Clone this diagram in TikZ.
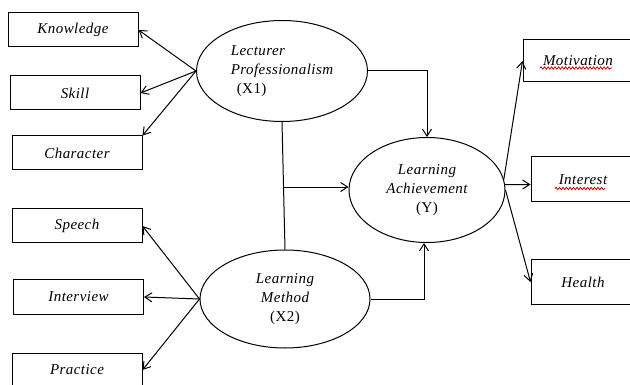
\documentclass[tikz,border=0pt]{standalone}
\usepackage{fontspec}
\setmainfont{Liberation Serif}[LetterSpace=3]
\usetikzlibrary{arrows.meta,positioning,shapes.geometric,calc,decorations.pathmorphing}

\begin{document}
\begin{tikzpicture}[x=1pt,y=-1pt,
  every node/.style={font=\fontsize{15}{19}\selectfont\itshape},
  ind/.style={draw,line width=1pt,minimum width=130pt,minimum height=34pt,inner sep=0pt},
  lat/.style={draw,ellipse,line width=1pt,inner sep=0pt,align=center},
  arrow/.style={-{Straight Barb[length=7pt,width=9pt]},line width=1pt},
  link/.style={line width=1pt},
  spell/.style={red!80!black,line width=0.8pt,decorate,
                decoration={snake,amplitude=1.2pt,segment length=3.5pt}},
  ]

  \clip (0,0) rectangle (630,385);

  %─── Latent variables ──────────────────────────────────────────────────────
  \node[lat,minimum width=171pt,minimum height=101pt,align=left]
    (lecturer) at (282,71)
    {Lecturer\\Professionalism\\\hspace*{6pt}\upshape(X1)};

  \node[lat,minimum width=156pt,minimum height=105pt]
    (achieve) at (427,190)
    {Learning\\Achievement\\\upshape(Y)};

  \node[lat,minimum width=170pt,minimum height=98pt]
    (method) at (285,299)
    {Learning\\Method\\\upshape(X2)};

  %─── Indicators of X1 ──────────────────────────────────────────────────────
  \node[ind] (knowledge) at (73,30)  {Knowledge};
  \node[ind] (skill)     at (75,93)  {Skill};
  \node[ind] (character) at (77,153) {Character};

  %─── Indicators of X2 ──────────────────────────────────────────────────────
  \node[ind] (speech)    at (77,226)   {Speech};
  \node[ind] (interview) at (78.5,297) {Interview};
  \node[ind] (practice)  at (77,370)   {Practice};

  %─── Indicators of Y ───────────────────────────────────────────────────────
  \node[ind,minimum width=110pt,minimum height=42pt] (motivation) at (578,61)    {Motivation};
  \node[ind,minimum width=104pt,minimum height=45pt] (interest)   at (583,179.5) {Interest};
  \node[ind,minimum width=104pt,minimum height=44pt] (health)     at (583,282)   {Health};

  % spelling marks under two labels
  \draw[spell] ([xshift=-38pt,yshift=-7pt]motivation.center) -- ([xshift=34pt,yshift=-7pt]motivation.center);
  \draw[spell] ([xshift=-28pt,yshift=-9pt]interest.center) -- ([xshift=22pt,yshift=-9pt]interest.center);

  %─── X1 -> indicators ──────────────────────────────────────────────────────
  \draw[arrow] (lecturer.west) -- (knowledge.east);
  \draw[arrow] (lecturer.west) -- (skill.east);
  \draw[arrow] (lecturer.west) -- (character.north east);

  %─── X2 -> indicators ──────────────────────────────────────────────────────
  \draw[arrow] (method.west) -- (speech.east);
  \draw[arrow] (method.west) -- (interview.east);
  \draw[arrow] (method.west) -- (practice.east);

  %─── Paths into Y ──────────────────────────────────────────────────────────
  \draw[arrow] (lecturer.east) -| (achieve.north);
  \draw[arrow] (method.east) -| ([xshift=-3pt]achieve.south);

  \draw[link] (lecturer.south) -- (method.north);
  \coordinate (junction) at ($(lecturer.south)!0.51!(method.north)$);
  \draw[arrow] (junction) -- (junction -| achieve.west);

  %─── Y -> indicators ───────────────────────────────────────────────────────
  \draw[arrow] (achieve.8) -- (motivation.west);
  \draw[arrow] (achieve.4) -- ([yshift=-5pt]interest.west);
  \draw[arrow] (achieve.east) -- (health.west);

\end{tikzpicture}
\end{document}
